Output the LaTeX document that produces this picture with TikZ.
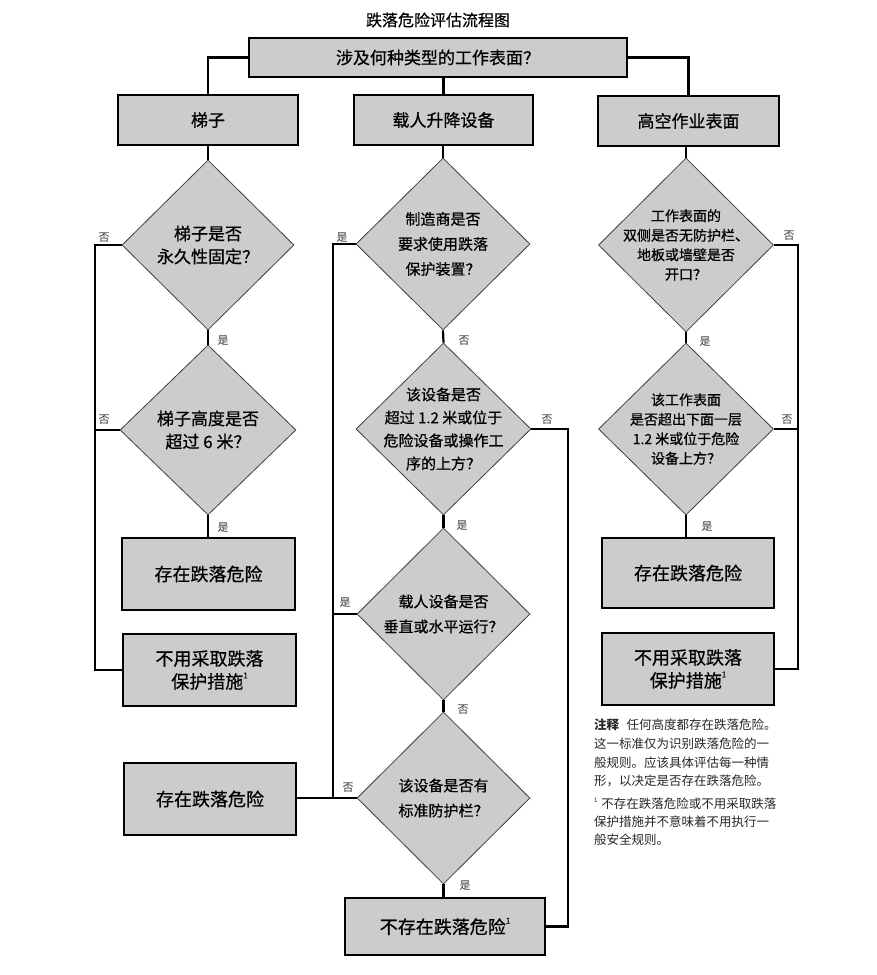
\documentclass[tikz,border=0pt]{standalone}
\usepackage{fontspec}
\setmainfont{Noto Sans CJK SC}
\newfontfamily\heavyfont{Noto Sans CJK SC}[FakeBold=0.6]
\usetikzlibrary{shapes.geometric}
\definecolor{boxgray}{RGB}{204,204,204}
\newcommand{\fnmark}{\raisebox{0.55em}{\fontsize{8}{8}\selectfont 1}}
\tikzset{
 box/.style={draw=black, line width=1.3pt, fill=boxgray, inner sep=0pt, align=center, font=\heavyfont\fontsize{17}{23}\selectfont},
 dia/.style={diamond, draw=black!75, line width=0.8pt, fill=boxgray, inner sep=0pt},
 diatext/.style={inner sep=0pt, align=center},
 conn/.style={line width=2.2pt, line join=miter},
 lbl/.style={font=\fontsize{11}{11}\selectfont, text=black!80, inner sep=0pt},
 note/.style={anchor=west, inner sep=0pt, font=\fontsize{12.5}{12.5}\selectfont, text=black!85},
}
\begin{document}
\begin{tikzpicture}[x=1pt,y=-1pt]
\useasboundingbox (0,0) rectangle (877,975);
\node[inner sep=0pt, font=\heavyfont\fontsize{16}{16}\selectfont] (title) at (438,20) {跌落危险评估流程图};

% top row
\node[box, minimum width=378pt, minimum height=39pt] (top) at (438,57.5) {涉及何种类型的工作表面？};
\node[box, minimum width=180pt, minimum height=50pt] (ladder) at (208,120) {梯子};
\node[box, minimum width=179pt, minimum height=50pt] (lift) at (443.5,120) {载人升降设备};
\node[box, minimum width=181pt, minimum height=50pt] (surf) at (688.5,121) {高空作业表面};

% left column
\node[dia, minimum width=172pt, minimum height=170pt] (LD1) at (208,245) {};
\node[diatext, font=\heavyfont\fontsize{17}{23}\selectfont] (LD1t) at (LD1) {梯子是否\\永久性固定？};
\node[dia, minimum width=176pt, minimum height=170pt] (LD2) at (208,430) {};
\node[diatext, font=\heavyfont\fontsize{17}{23}\selectfont] (LD2t) at (LD2) {梯子高度是否\\超过 6 米？};
\node[box, minimum width=173pt, minimum height=72pt, font=\heavyfont\fontsize{18}{23}\selectfont] (Lrisk) at (208.5,574) {存在跌落危险};
\node[box, minimum width=173pt, minimum height=72pt, font=\heavyfont\fontsize{18}{23}\selectfont] (Lno) at (209.5,670) {不用采取跌落\\保护措施\fnmark};

% middle column
\node[dia, minimum width=174pt, minimum height=172pt] (MD1) at (443,244) {};
\node[diatext, font=\heavyfont\fontsize{15}{25}\selectfont] (MD1t) at (MD1) {制造商是否\\要求使用跌落\\保护装置？};
\node[dia, minimum width=175pt, minimum height=172pt] (MD2) at (443.5,429) {};
\node[diatext, font=\heavyfont\fontsize{15}{23}\selectfont] (MD2t) at (MD2) {该设备是否\\超过 1.2 米或位于\\危险设备或操作工\\序的上方？};
\node[dia, minimum width=173pt, minimum height=172pt] (MD3) at (443.5,614) {};
\node[diatext, font=\heavyfont\fontsize{15}{25}\selectfont] (MD3t) at (MD3) {载人设备是否\\垂直或水平运行？};
\node[dia, minimum width=173pt, minimum height=172pt] (MD4) at (443.5,798) {};
\node[diatext, font=\heavyfont\fontsize{15}{25}\selectfont] (MD4t) at (MD4) {该设备是否有\\标准防护栏？};
\node[box, minimum width=172pt, minimum height=72pt, font=\heavyfont\fontsize{18}{23}\selectfont] (Mrisk) at (210,799) {存在跌落危险};
\node[box, minimum width=200pt, minimum height=57pt, font=\heavyfont\fontsize{18}{23}\selectfont] (Mnohaz) at (445,926.5) {不存在跌落危险\fnmark};

% right column
\node[dia, minimum width=175pt, minimum height=174pt] (RD1) at (686,245) {};
\node[diatext, font=\heavyfont\fontsize{14}{19.5}\selectfont] (RD1t) at (RD1) {工作表面的\\双侧是否无防护栏、\\地板或墙壁是否\\开口？};
\node[dia, minimum width=175pt, minimum height=172pt] (RD2) at (686,429) {};
\node[diatext, font=\heavyfont\fontsize{14}{19.5}\selectfont] (RD2t) at (RD2) {该工作表面\\是否超出下面一层\\1.2 米或位于危险\\设备上方？};
\node[box, minimum width=172pt, minimum height=70pt, font=\heavyfont\fontsize{18}{23}\selectfont] (Rrisk) at (688,573) {存在跌落危险};
\node[box, minimum width=172pt, minimum height=72pt, font=\heavyfont\fontsize{18}{23}\selectfont] (Rno) at (688,669) {不用采取跌落\\保护措施\fnmark};

% connectors top
\draw[conn] (top.west) -| (ladder.north);
\draw[conn] (top.east) -| (surf.north);
\draw[conn] (lift.north |- top.south) -- (lift.north);
\draw[conn] (ladder.south) -- (LD1.north);
\draw[conn] (lift.south -| MD1.north) -- (MD1.north);
\draw[conn] (surf.south -| RD1.north) -- (RD1.north);

% left connectors
\coordinate (Lx1) at (95,245);
\coordinate (Lx2) at (95,430);
\draw[conn] (LD1.west) -- (Lx1) |- (Lno.west);
\draw[conn] (LD2.west) -- (Lx2);
\draw[conn] (LD1.south) -- (LD2.north);
\draw[conn] (LD2.south) -- (LD2.south |- Lrisk.north);

% middle connectors
\coordinate (Mx1) at (333,244);
\coordinate (Mx3) at (333,614);
\coordinate (Mx4) at (333,798);
\draw[conn] (MD1.west) -- (Mx1) -- (Mx4);
\draw[conn] (MD3.west) -- (Mx3);
\draw[conn] (Mrisk.east |- MD4.west) -- (MD4.west);
\coordinate (Mr1) at (568,429);
\draw[conn] (MD2.east) -- (Mr1) |- (Mnohaz.east);
\draw[conn] (MD1.south) -- (MD2.north);
\draw[conn] (MD2.south) -- (MD3.north);
\draw[conn] (MD3.south) -- (MD4.north);
\draw[conn] (MD4.south) -- (MD4.south |- Mnohaz.north);

% right connectors
\coordinate (Rx1) at (798,245);
\coordinate (Rx2) at (798,429);
\draw[conn] (RD1.east) -- (Rx1) |- (Rno.east);
\draw[conn] (RD2.east) -- (Rx2);
\draw[conn] (RD1.south) -- (RD2.north);
\draw[conn] (RD2.south) -- (RD2.south |- Rrisk.north);

% yes/no labels
\node[lbl] (l1) at (104,238) {否};
\node[lbl] (l2) at (223,341) {是};
\node[lbl] (l3) at (104,420) {否};
\node[lbl] (l4) at (223,528) {是};
\node[lbl] (l5) at (342,238) {是};
\node[lbl] (l6) at (464,341) {否};
\node[lbl] (l7) at (547,420) {否};
\node[lbl] (l8) at (462,526) {是};
\node[lbl] (l9) at (345,603) {是};
\node[lbl] (l10) at (463,710) {否};
\node[lbl] (l11) at (348,788) {否};
\node[lbl] (l12) at (465,886) {是};
\node[lbl] (l13) at (789,236) {否};
\node[lbl] (l14) at (705,342) {是};
\node[lbl] (l15) at (787,420) {否};
\node[lbl] (l16) at (707,527) {是};

% notes
\node[note] (n1) at (594,725) {\textbf{注释}\hspace{0.6em}任何高度都存在跌落危险。};
\node[note] (n2) at (594,744) {这一标准仅为识别跌落危险的一};
\node[note] (n3) at (594,763) {般规则。应该具体评估每一种情};
\node[note] (n4) at (594,781) {形，以决定是否存在跌落危险。};
\node[note] (n5) at (594,804) {\raisebox{0.5em}{\fontsize{6}{6}\selectfont 1}\hspace{0.3em}不存在跌落危险或不用采取跌落};
\node[note] (n6) at (594,822) {保护措施并不意味着不用执行一};
\node[note] (n7) at (594,840) {般安全规则。};
\end{tikzpicture}
\end{document}
